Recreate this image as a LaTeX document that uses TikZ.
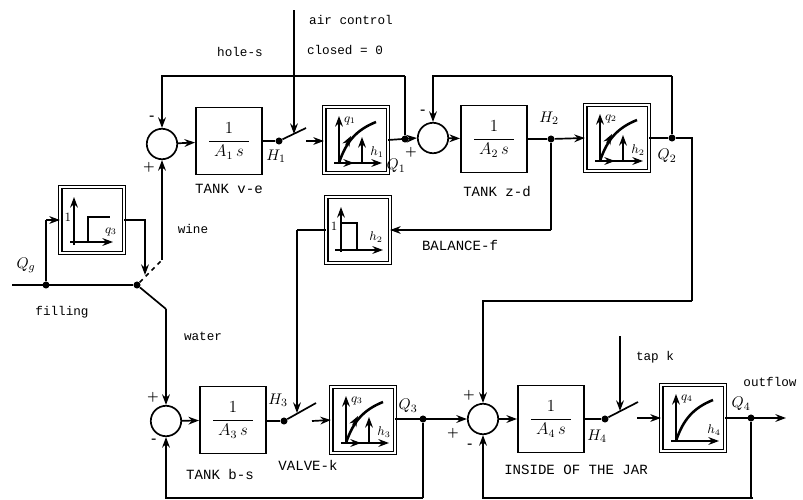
\documentclass[tikz,border=0pt]{standalone}
\usepackage{fontspec}
\usepackage{amsmath}
\usetikzlibrary{arrows.meta}
\setmonofont{Liberation Mono}

% axes and curve of a nonlinear block: block name, q label, h label
\newcommand{\flowcurve}[3]{
    \begin{scope}[shift={(#1.center)}]
        \draw[arrow] (-17,23) -- (-17,-24);
        \draw[arrow] (-22,23) -- (26,23);
        \draw[curve] (-17,23) .. controls (-10,2) and (0,-10) .. (20,-18);
        \node[axis] (#1q) at (-6,-19) {$#2$};
        \node[axis] (#1h) at (21,12) {$#3$};
    \end{scope}
}
% the working point arrows of a block
\newcommand{\flowpoint}[1]{
    \begin{scope}[shift={(#1.center)}]
        \draw[arrow] (-10,23) -- (-2,23);
        \draw[arrow] (6,23) -- (6,-3);
        \draw[arrow] (-10,5) -- (-5,-4);
    \end{scope}
}

\begin{document}
\begin{tikzpicture}[
        x=0.025cm, y=-0.025cm,
        tank/.style={draw, line width=1.1pt, minimum width=1.66cm, minimum height=1.68cm, inner sep=0pt, font=\large},
        gain/.style={draw, line width=0.8pt, double, double distance=1.4pt, minimum width=1.58cm, minimum height=1.64cm},
        sum/.style={draw, circle, line width=1.2pt, minimum size=0.76cm, inner sep=0pt},
        dot/.style={fill, circle, minimum size=5pt, inner sep=0pt},
        arrow/.style={-{Stealth[length=7.5pt,width=5.5pt]}, line width=1.2pt},
        wire/.style={line width=1.2pt},
        curve/.style={line width=1.8pt},
        caps/.style={font=\ttfamily\fontsize{10}{12}\selectfont},
        lbl/.style={font=\ttfamily\fontsize{9}{11}\selectfont},
        sym/.style={font=\fontsize{11}{13}\selectfont},
        axis/.style={font=\fontsize{9}{10}\selectfont, inner sep=0pt},
        sign/.style={font=\bfseries\small, inner sep=0pt}
    ]
        \useasboundingbox (0,0) rectangle (803,500);

        % Blocks
        \node[sum] (sum1) at (162,144) {};
        \node[tank] (tank1) at (229,141) {$\dfrac{1}{\;A_1\,s\;}$};
        \node[gain] (gain1) at (356,140) {};
        \node[sum] (sum2) at (433,138) {};
        \node[tank] (tank2) at (494,139) {$\dfrac{1}{\;A_2\,s\;}$};
        \node[gain] (gain2) at (617,138) {};
        \node[gain] (gainf) at (92,220) {};
        \node[gain] (gainb) at (358,230) {};
        \node[sum] (sum3) at (166,421) {};
        \node[tank] (tank3) at (233,420) {$\dfrac{1}{\;A_3\,s\;}$};
        \node[gain] (gain3) at (363,420) {};
        \node[sum] (sum4) at (483,419) {};
        \node[tank] (tank4) at (551,419) {$\dfrac{1}{\;A_4\,s\;}$};
        \node[gain] (gain4) at (693,418) {};

        % Plots inside the blocks
        \flowcurve{gain1}{q_1}{h_1}
        \flowpoint{gain1}
        \flowcurve{gain2}{q_2}{h_2}
        \flowpoint{gain2}
        \flowcurve{gain3}{q_3}{h_3}
        \flowpoint{gain3}
        \flowcurve{gain4}{q_4}{h_4}

        \draw[arrow] (74,245) -- (74,197);
        \draw[arrow] (70,242) -- (113,242);
        \draw[curve] (88,242) -- (88,217) -- (110,217);
        \node[axis] (gainf1) at (68,217) {$1$};
        \node[axis] (gainfq) at (111,232) {$q_3$};

        \draw[arrow] (341,252) -- (341,207);
        \draw[arrow] (335,250) -- (383,250);
        \draw[curve] (341,223) -- (357,223) -- (357,250);
        \node[axis] (gainb1) at (334,226) {$1$};
        \node[axis] (gainbh) at (376,237) {$h_2$};

        % Junctions and free ends
        \node[dot] (h1dot) at (279,141) {};
        \node[dot] (q1dot) at (405,139) {};
        \node[dot] (h2dot) at (551,139) {};
        \node[dot] (q2dot) at (672,138) {};
        \node[dot] (qgdot) at (46,285) {};
        \node[dot] (swdot) at (137,285) {};
        \node[dot] (h3dot) at (284,421) {};
        \node[dot] (q3dot) at (423,419) {};
        \node[dot] (h4dot) at (605,419) {};
        \node[dot] (q4dot) at (751,418) {};

        \coordinate (sw1) at (306,128);
        \coordinate (sw1on) at (294,134);
        \coordinate (sw1out) at (306,141);
        \coordinate (airin) at (294,10);
        \coordinate (fb1) at (405,76);
        \coordinate (fb2) at (672,76);
        \coordinate (q2turn) at (692,138);
        \coordinate (q2down) at (692,301);
        \coordinate (balturn) at (551,230);
        \coordinate (balout) at (297,230);
        \coordinate (sw3) at (316,403);
        \coordinate (sw3on) at (297,413);
        \coordinate (sw3out) at (312,421);
        \coordinate (sw4) at (638,402);
        \coordinate (sw4on) at (620,411);
        \coordinate (sw4out) at (637,418);
        \coordinate (tapin) at (620,336);
        \coordinate (qgin) at (12,285);
        \coordinate (qgup) at (46,220);
        \coordinate (qgret) at (145,275);
        \coordinate (wineend) at (162,260);
        \coordinate (waterend) at (166,309);
        \coordinate (out) at (786,418);
        \coordinate (fb3) at (423,498);
        \coordinate (fb4) at (753,498);

        % Upper branch
        \draw[arrow] (sum1) -- (tank1);
        \draw[wire] (tank1.east |- h1dot) -- (h1dot);
        \draw[wire] (h1dot) -- (sw1);
        \draw[arrow] (airin) -- (sw1on);
        \draw[arrow] (sw1out) -- (gain1.west |- sw1out);
        \draw[arrow] (gain1.east) -- (sum2.west);
        \draw[wire] (q1dot) -- (fb1);
        \draw[arrow] (fb1) -| (sum1.north);
        \draw[arrow] (sum2) -- (tank2);
        \draw[wire] (tank2.east) -- (h2dot);
        \draw[arrow] (h2dot) -- (gain2.west);
        \draw[wire] (gain2.east) -- (q2dot);
        \draw[wire] (q2dot) -- (fb2);
        \draw[arrow] (fb2) -| (sum2.north);
        \draw[wire] (q2dot) -- (q2turn) -- (q2down);
        \draw[arrow] (q2down) -| (sum4.north);

        % Balance branch
        \draw[wire] (h2dot) -- (balturn);
        \draw[arrow] (balturn) -- (gainb.east);
        \draw[wire] (gainb.west) -- (balout);
        \draw[arrow] (balout) -- (sw3on);

        % Filling switch
        \draw[wire] (qgin) -- (swdot);
        \draw[wire] (qgdot) -- (qgup);
        \draw[arrow] (qgup) -- (gainf.west);
        \draw[arrow] (gainf.east) -| (qgret);
        \draw[wire] (swdot) -- (waterend);
        \draw[wire, dashed] (swdot) -- (wineend);
        \draw[arrow] (wineend) -- (sum1.south);
        \draw[arrow] (waterend) -- (sum3.north);

        % Lower branch
        \draw[arrow] (sum3) -- (tank3);
        \draw[wire] (tank3.east |- h3dot) -- (h3dot);
        \draw[wire] (h3dot) -- (sw3);
        \draw[arrow] (sw3out) -- (gain3.west);
        \draw[arrow] (gain3.east |- q3dot) -- (sum4.west);
        \draw[wire] (q3dot) -- (fb3);
        \draw[arrow] (fb3) -| (sum3.south);
        \draw[arrow] (sum4) -- (tank4);
        \draw[wire] (tank4.east) -- (h4dot);
        \draw[wire] (h4dot) -- (sw4);
        \draw[arrow] (tapin) -- (sw4on);
        \draw[arrow] (sw4out) -- (gain4.west);
        \draw[arrow] (gain4.east) -- (out);
        \draw[wire] (q4dot) |- (fb4);
        \draw[arrow] (fb4) -| (sum4.south);

        % Signs
        \node[sign] (s1a) at (152,118) {-};
        \node[sign] (s1b) at (149,167) {+};
        \node[sign] (s2a) at (423,112) {-};
        \node[sign] (s2b) at (411,152) {+};
        \node[sign] (s3a) at (153,397) {+};
        \node[sign] (s3b) at (154,441) {-};
        \node[sign] (s4a) at (469,395) {+};
        \node[sign] (s4b) at (453,433) {+};
        \node[sign] (s4c) at (470,446) {-};

        % Signal names
        \node[sym] (lh1) at (276,156) {$H_1$};
        \node[sym] (lq1) at (396,166) {$Q_1$};
        \node[sym] (lh2) at (549,118) {$H_2$};
        \node[sym] (lq2) at (667,156) {$Q_2$};
        \node[sym] (lqg) at (26,265) {$Q_g$};
        \node[sym] (lh3) at (278,400) {$H_3$};
        \node[sym] (lq3) at (408,406) {$Q_3$};
        \node[sym] (lh4) at (597,436) {$H_4$};
        \node[sym] (lq4) at (741,404) {$Q_4$};

        % Labels
        \node[lbl] (lair) at (351,20) {air control};
        \node[lbl] (lclosed) at (345,50) {closed = 0};
        \node[lbl] (lhole) at (240,52) {hole-s};
        \node[caps] (ltank1) at (229,189) {TANK v-e};
        \node[caps] (ltank2) at (497,191) {TANK z-d};
        \node[caps] (ltank3) at (220,474) {TANK b-s};
        \node[caps] (lvalve) at (308,465) {VALVE-k};
        \node[caps] (lbal) at (460,245) {BALANCE-f};
        \node[caps] (ljar) at (576,470) {INSIDE OF THE JAR};
        \node[lbl] (lwine) at (193,229) {wine};
        \node[lbl] (lfill) at (62,312) {filling};
        \node[lbl] (lwater) at (203,336) {water};
        \node[lbl] (ltap) at (655,357) {tap k};
        \node[lbl] (lout) at (770,382) {outflow};
    \end{tikzpicture}
\end{document}
